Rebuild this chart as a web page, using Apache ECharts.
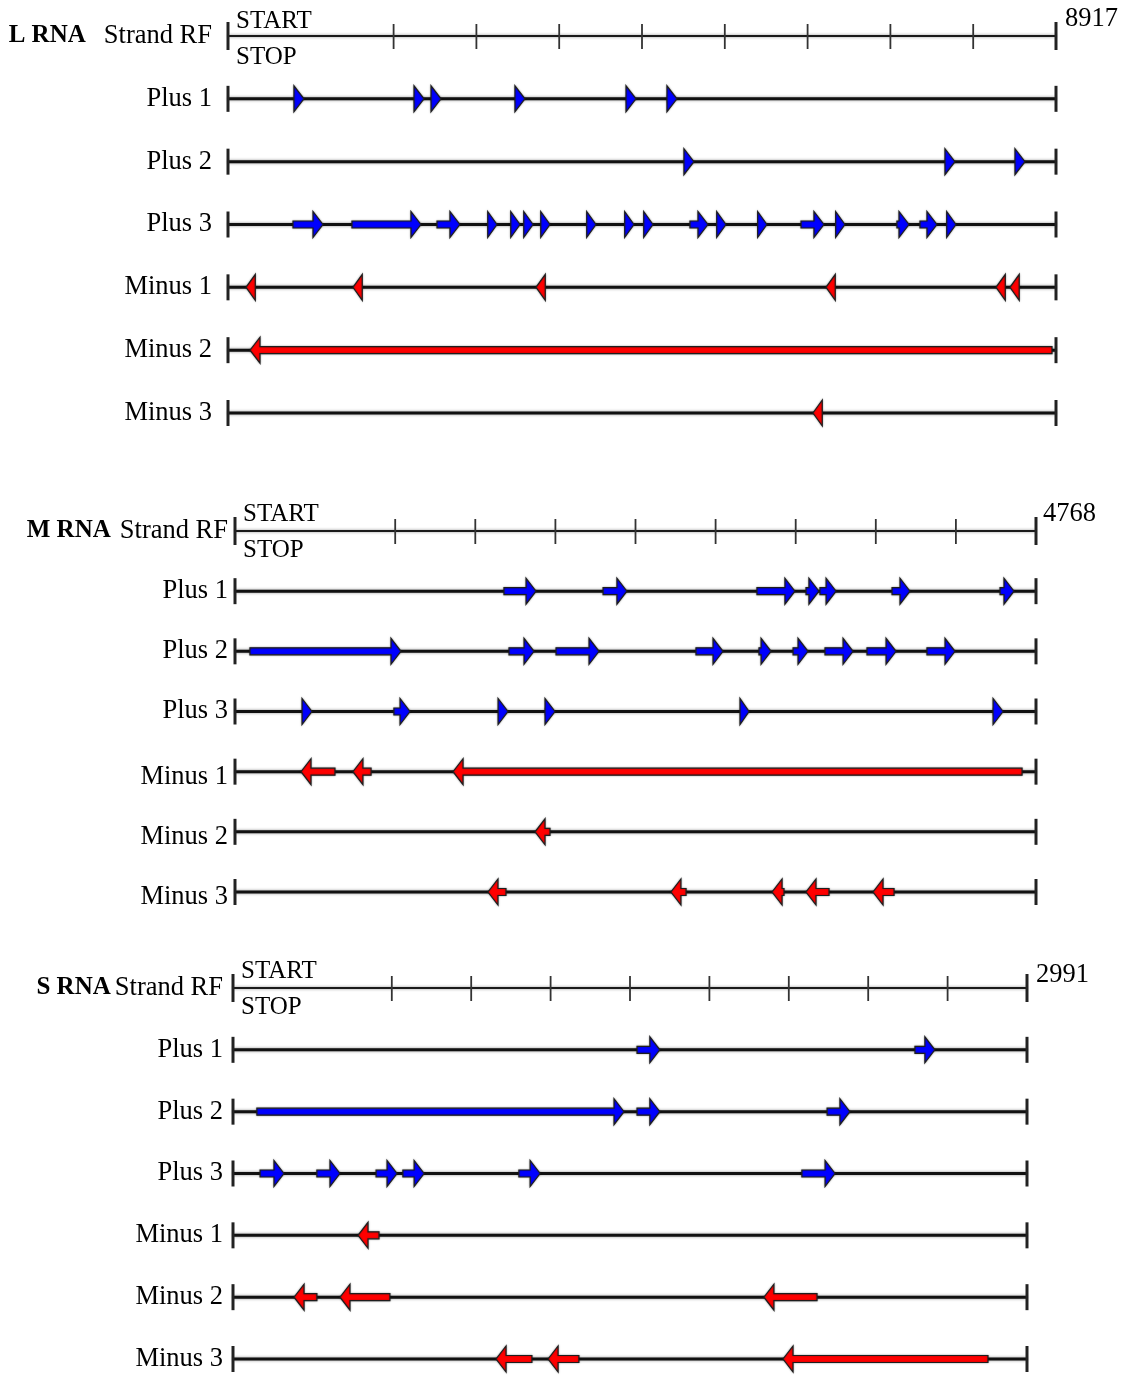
<!DOCTYPE html>
<html><head><meta charset="utf-8">
<script src="https://cdn.jsdelivr.net/npm/echarts@6/dist/echarts.min.js"></script>
<style>html,body{margin:0;padding:0;background:#fff}#c{width:1128px;height:1376px}</style>
</head><body><div id="c"></div>
<script>
// ---------- data ----------
const ROW_LABELS = ['Strand RF', 'Plus 1', 'Plus 2', 'Plus 3', 'Minus 1', 'Minus 2', 'Minus 3'];
const SEGMENT_NAMES = ['L RNA', 'M RNA', 'S RNA'];
const SEGMENT_LENGTHS = [8917, 4768, 2991];
const RULER_TICK_TENTHS = [2, 3, 4, 5, 6, 7, 8, 9];
const START_LABEL = 'START';
const STOP_LABEL = 'STOP';

// ORFs as [start, end] in nt
const L_PLUS1 = [[710, 818], [2003, 2111], [2186, 2294], [3090, 3198], [4286, 4394], [4727, 4835]];
const L_PLUS2 = [[4910, 5018], [7721, 7829], [8475, 8583]];
const L_PLUS3 = [[700, 1023], [1335, 2078], [2251, 2498], [2797, 2897], [3045, 3145], [3185, 3285], [3368, 3468], [3863, 3963], [4272, 4372], [4477, 4577], [4975, 5169], [5263, 5363], [5704, 5804], [6171, 6418], [6544, 6644], [7204, 7334], [7452, 7635], [7740, 7840]];
const L_MINUS1 = [[194, 294], [1346, 1446], [3317, 3417], [6440, 6540], [8271, 8371], [8421, 8521]];
const L_MINUS2 = [[237, 8874]];
const L_MINUS3 = [[6300, 6400]];

const M_PLUS1 = [[1601, 1792], [2191, 2333], [3107, 3333], [3399, 3476], [3482, 3578], [3911, 4018], [4554, 4637]];
const M_PLUS2 = [[89, 988], [1631, 1780], [1911, 2167], [2744, 2905], [3119, 3191], [3322, 3411], [3512, 3679], [3762, 3935], [4119, 4286]];
const M_PLUS3 = [[399, 458], [946, 1042], [1566, 1625], [1845, 1905], [3006, 3060], [4512, 4572]];
const M_MINUS1 = [[393, 595], [702, 810], [1298, 4685]];
const M_MINUS2 = [[1786, 1875]];
const M_MINUS3 = [[1506, 1613], [2595, 2685], [3197, 3268], [3399, 3536], [3798, 3923]];

const S_PLUS1 = [[1522, 1608], [2569, 2644]];
const S_PLUS2 = [[90, 1473], [1522, 1608], [2238, 2324]];
const S_PLUS3 = [[102, 192], [316, 403], [539, 618], [640, 720], [1077, 1157], [2143, 2268]];
const S_MINUS1 = [[471, 550]];
const S_MINUS2 = [[230, 316], [403, 591], [2000, 2200]];
const S_MINUS3 = [[991, 1126], [1187, 1303], [2072, 2844]];

const SEGMENT_FRAMES = [
  [L_PLUS1, L_PLUS2, L_PLUS3, L_MINUS1, L_MINUS2, L_MINUS3],
  [M_PLUS1, M_PLUS2, M_PLUS3, M_MINUS1, M_MINUS2, M_MINUS3],
  [S_PLUS1, S_PLUS2, S_PLUS3, S_MINUS1, S_MINUS2, S_MINUS3]
];

// ---------- layout / style ----------
const FONT = '"Liberation Serif", "Times New Roman", serif';
const LAYOUT = [
  { top: 36, height: 377, left: 228, right: 72, labelMargin: 16, boldGap: 18, startDy: -15, stopDy: 21, lenDx: 9, lenDy: -17, minusShift: 0 },
  { top: 531, height: 361, left: 235, right: 92, labelMargin: 7, boldGap: 9, startDy: -17, stopDy: 19, lenDx: 7, lenDy: -17, minusShift: 10 },
  { top: 988, height: 371, left: 233, right: 101, labelMargin: 10, boldGap: 4, startDy: -17, stopDy: 19, lenDx: 9, lenDy: -13, minusShift: 0 }
];
const GLOW = { shadowBlur: 3, shadowColor: 'rgba(0,0,0,0.45)' };

const chart = echarts.init(document.getElementById('c'), null, { renderer: 'canvas' });

const grids = [], xAxes = [], yAxes = [], series = [];

SEGMENT_NAMES.forEach((name, gi) => {
  const L = LAYOUT[gi];
  const len = SEGMENT_LENGTHS[gi];
  grids.push({ left: L.left, right: L.right, top: L.top, height: L.height, containLabel: false });
  xAxes.push({ gridIndex: gi, type: 'value', min: 0, max: len, show: false });
  yAxes.push({
    gridIndex: gi, type: 'category', data: ROW_LABELS, inverse: true, boundaryGap: false,
    axisLine: { show: false }, axisTick: { show: false }, splitLine: { show: false },
    axisLabel: {
      interval: 0, margin: L.labelMargin, color: '#000', fontFamily: FONT, fontSize: 26.5,
      formatter: (v, idx) => {
        if (idx === 0) return '{b|' + name + '}' + v;
        if (idx >= 4 && L.minusShift) return '{lo|' + v + '}';
        return v;
      },
      rich: {
        b: { fontWeight: 'bold', fontSize: 25, fontFamily: FONT, color: '#000', padding: [0, L.boldGap, 0, 0] },
        lo: { fontSize: 26.5, fontFamily: FONT, color: '#000', padding: [L.minusShift, 0, 0, 0] }
      }
    }
  });

  // baselines + ruler
  series.push({
    type: 'custom', xAxisIndex: gi, yAxisIndex: gi, clip: false, silent: true, z: 1,
    data: ROW_LABELS.map((_, r) => [0, len, r]),
    renderItem: (params, api) => {
      const r = api.value(2);
      const a = api.coord([api.value(0), r]);
      const b = api.coord([api.value(1), r]);
      const c = a[1];
      const kids = [];
      if (r === 0) {
        kids.push({ type: 'line', shape: { x1: a[0], y1: c, x2: b[0], y2: c }, style: Object.assign({ stroke: '#1a1a1a', lineWidth: 2.2 }, GLOW) });
        [a[0], b[0]].forEach(x => kids.push({ type: 'line', shape: { x1: x, y1: c - 14, x2: x, y2: c + 14 }, style: { stroke: '#222', lineWidth: 3 } }));
        RULER_TICK_TENTHS.forEach(t => {
          const x = api.coord([len * t / 10, r])[0];
          kids.push({ type: 'line', shape: { x1: x, y1: c - 12, x2: x, y2: c + 13 }, style: { stroke: '#333', lineWidth: 1.8 } });
        });
        kids.push({ type: 'text', x: a[0] + 8, y: c + L.startDy, style: { text: START_LABEL, fontFamily: FONT, fontSize: 25, fill: '#000', align: 'left', verticalAlign: 'middle' } });
        kids.push({ type: 'text', x: a[0] + 8, y: c + L.stopDy, style: { text: STOP_LABEL, fontFamily: FONT, fontSize: 25, fill: '#000', align: 'left', verticalAlign: 'middle' } });
        kids.push({ type: 'text', x: b[0] + L.lenDx, y: c + L.lenDy, style: { text: String(len), fontFamily: FONT, fontSize: 26.5, fill: '#000', align: 'left', verticalAlign: 'middle' } });
      } else {
        kids.push({ type: 'line', shape: { x1: a[0], y1: c, x2: b[0], y2: c }, style: Object.assign({ stroke: '#111', lineWidth: 3 }, GLOW) });
        [a[0], b[0]].forEach(x => kids.push({ type: 'line', shape: { x1: x, y1: c - 13, x2: x, y2: c + 13 }, style: { stroke: '#222', lineWidth: 3 } }));
      }
      return { type: 'group', children: kids };
    }
  });

  // ORF arrows
  const orfData = [];
  SEGMENT_FRAMES[gi].forEach((arr, fi) => arr.forEach(o => orfData.push([o[0], o[1], fi + 1])));
  series.push({
    type: 'custom', xAxisIndex: gi, yAxisIndex: gi, clip: false, silent: true, z: 2,
    data: orfData,
    renderItem: (params, api) => {
      const s = api.value(0), e = api.value(1), r = api.value(2);
      const a = api.coord([s, r]), b = api.coord([e, r]);
      const c = a[1];
      const plus = r <= 3;
      const H = 10, bh = 3.5, hh = 13;
      let pts;
      if (plus) {
        const hb = Math.max(a[0], b[0] - H);
        pts = [[a[0], c - bh], [hb, c - bh], [hb, c - hh], [b[0], c], [hb, c + hh], [hb, c + bh], [a[0], c + bh]];
      } else {
        const hb = Math.min(b[0], a[0] + H);
        pts = [[b[0], c - bh], [hb, c - bh], [hb, c - hh], [a[0], c], [hb, c + hh], [hb, c + bh], [b[0], c + bh]];
      }
      return {
        type: 'polygon', shape: { points: pts },
        style: { fill: plus ? '#0000ff' : '#ff0000', stroke: '#1e1e1e', lineWidth: 1.2, shadowBlur: 2, shadowColor: 'rgba(0,0,0,0.35)' }
      };
    }
  });
});

chart.setOption({ animation: false, backgroundColor: '#fff', grid: grids, xAxis: xAxes, yAxis: yAxes, series: series });
</script>
</body></html>
